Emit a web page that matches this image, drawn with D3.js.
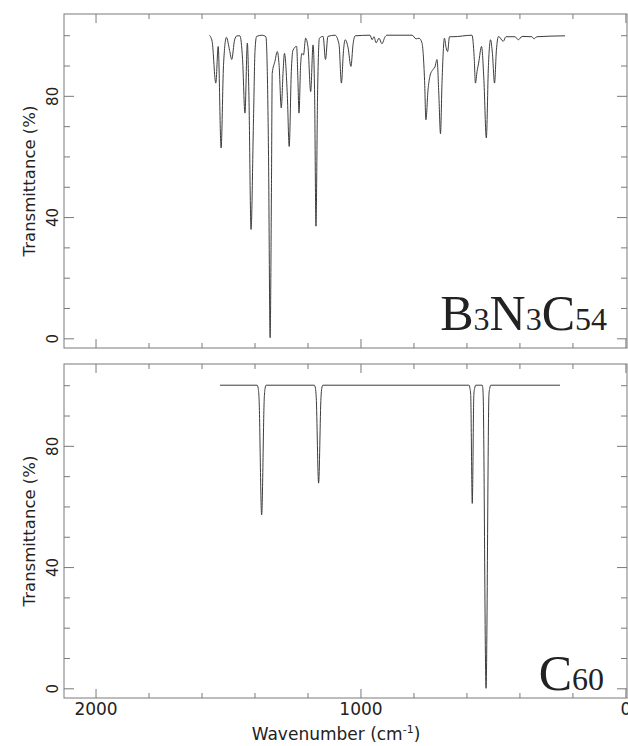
<!DOCTYPE html>
<html>
<head>
<meta charset="utf-8">
<script src="https://cdn.jsdelivr.net/npm/d3@7"></script>
<style>
  body { margin: 0; background: #fff; }
  text { fill: #222; }
</style>
</head>
<body>
<div id="chart"></div>
<script>
"use strict";

// B3N3C54 spectrum (wavenumber cm-1 / transmittance %)
var b3n3Wavenumber = [1570,1560,1546,1537,1526,1517,1506,1494,1486,1475,
  1466,1455,1445,1436,1427,1421,1413,1404,1398,1392,
  1372,1357,1347,1341,1336,1333,1323,1314,1307,1299,
  1292,1287,1276,1269,1261,1255,1241,1236,1232,1226,
  1221,1215,1207,1198,1188,1179,1173,1168,1162,1155,
  1141,1132,1123,1096,1081,1072,1064,1058,1047,1036,
  1028,1020,964,956,949,941,930,919,907,900,
  805,790,779,768,758,753,745,738,728,719,
  711,704,698,692,683,677,671,664,651,579,
  571,566,560,554,543,534,525,517,509,502,
  494,487,479,461,451,417,404,390,353,345,
  334,228];
var b3n3Transmittance = [100,98,84.2,96.3,62.8,90,99.3,95,92,98.5,
  99.8,99.8,92,74.3,97.4,80,35.9,71,95,99.6,
  100,99.5,60,0.2,50,87.5,91.3,94.6,90,76,
  88,94,80,63.3,88,95,96.3,85,74.3,90,
  94,93.5,99,96,81.4,96.8,80,37,80,99,
  99.6,92,99.6,100,97,84.2,95,98.5,96,89.7,
  97,99.8,100,98.5,99.5,97.5,99,97.2,99.5,100,
  100,98.8,99,97.5,85,72.1,82,86.4,88.5,89.5,
  92,80,67.5,85,99,96,94.6,99.5,99.5,100,
  93,84.2,88,90.8,96.3,85,66.1,90,98.5,94,
  84.2,95,99.6,98,99.5,99.5,98.5,99.6,99.5,98.8,
  99.5,99.8];

// C60 spectrum
var c60Wavenumber = [1530,1390,1386,1383,1373,1363,1360,1356,
  1175,1174,1170,1167,1158,1149,1146,1142,
  591,590,587,584,578,572,569,565,
  553,540,537,526,515,512,508,247];
var c60Transmittance = [100,100,99,96,57.2,96,99,100,
  100,100,99,96,67.7,96,99,100,
  100,100,99,97,61,97,99,100,
  100,100,97,0,97,99,100,100];

var xMajorTicks = [2000, 1000, 0];
var xMinorTicks = [1800, 1600, 1400, 1200, 800, 600, 400, 200];
var yMajorTicks = [0, 40, 80];
var yMinorTicks = [10, 20, 30, 50, 60, 70, 90, 100];

var width = 628, height = 746;
var left = 64, right = 627;

var svg = d3.select("#chart")
  .append("svg")
    .attr("width", width)
    .attr("height", height)
    .style("font-family", "'DejaVu Sans', sans-serif");

svg.append("rect").attr("width", width).attr("height", height).attr("fill", "#fff");

var x = d3.scaleLinear().domain([2119, -6]).range([left, right]);

var line = function(y) {
  return d3.line()
    .x(function(d) { return x(d[0]); })
    .y(function(d) { return y(d[1]); })
    .curve(d3.curveMonotoneX);
};

function drawPanel(top, bottom, wn, tr, showXLabels) {
  var y = d3.scaleLinear().domain([-3.2, 107]).range([bottom, top]);
  var g = svg.append("g");

  // x ticks, bottom and top edges, pointing inward
  var xb = g.append("g").attr("transform", "translate(0," + bottom + ")")
    .call(d3.axisBottom(x).tickValues(xMajorTicks).tickSize(-9).tickPadding(5)
      .tickFormat(showXLabels ? d3.format("d") : ""));
  g.append("g").attr("transform", "translate(0," + bottom + ")")
    .call(d3.axisBottom(x).tickValues(xMinorTicks).tickSize(-5).tickFormat(""));
  g.append("g").attr("transform", "translate(0," + top + ")")
    .call(d3.axisTop(x).tickValues(xMajorTicks).tickSize(-9).tickFormat(""));
  g.append("g").attr("transform", "translate(0," + top + ")")
    .call(d3.axisTop(x).tickValues(xMinorTicks).tickSize(-5).tickFormat(""));

  // y ticks, left and right edges
  var yl = g.append("g").attr("transform", "translate(" + left + ",0)")
    .call(d3.axisLeft(y).tickValues(yMajorTicks).tickSize(-10).tickFormat(d3.format("d")));
  g.append("g").attr("transform", "translate(" + left + ",0)")
    .call(d3.axisLeft(y).tickValues(yMinorTicks).tickSize(-6).tickFormat(""));
  g.append("g").attr("transform", "translate(" + right + ",0)")
    .call(d3.axisRight(y).tickValues(yMajorTicks).tickSize(-10).tickFormat(""));
  g.append("g").attr("transform", "translate(" + right + ",0)")
    .call(d3.axisRight(y).tickValues(yMinorTicks).tickSize(-6).tickFormat(""));

  g.selectAll(".domain").remove();
  g.selectAll(".tick line").attr("stroke", "#7a7a7a");

  yl.selectAll("text")
    .attr("x", null).attr("dy", null)
    .attr("text-anchor", "middle")
    .attr("transform", "translate(-6,0) rotate(-90)")
    .style("font-size", "15px").style("font-family", "'DejaVu Sans', sans-serif")
    .attr("fill", "#222");
  xb.selectAll("text")
    .style("font-size", "17px").style("font-family", "'DejaVu Sans', sans-serif")
    .attr("fill", "#222");

  // frame
  g.append("rect")
    .attr("x", left).attr("y", top)
    .attr("width", right - left).attr("height", bottom - top)
    .attr("fill", "none").attr("stroke", "#7a7a7a").attr("stroke-width", 1);

  // spectrum
  g.append("path")
    .datum(d3.zip(wn, tr))
    .attr("fill", "none")
    .attr("stroke", "#3c3c3c")
    .attr("stroke-width", 1)
    .attr("d", line(y));

  g.append("text")
    .attr("transform", "translate(35," + ((top + bottom) / 2) + ") rotate(-90)")
    .attr("text-anchor", "middle")
    .style("font-size", "16.5px")
    .text("Transmittance (%)");

  return g;
}

var gTop = drawPanel(14, 348, b3n3Wavenumber, b3n3Transmittance, false);
var gBot = drawPanel(364, 698, c60Wavenumber, c60Transmittance, true);

// molecule labels
function formula(g, xr, yb, parts) {
  var t = g.append("text")
    .attr("x", xr).attr("y", yb)
    .attr("text-anchor", "end")
    .style("font-family", "'Liberation Serif', 'Times New Roman', serif")
    .attr("fill", "#111");
  parts.forEach(function(p) {
    t.append("tspan").style("font-size", p[1] ? "32px" : "50px").text(p[0]);
  });
}
formula(gTop, 607, 330, [["B", 0], ["3", 1], ["N", 0], ["3", 1], ["C", 0], ["54", 1]]);
formula(gBot, 604, 690, [["C", 0], ["60", 1]]);

// x axis title
var xt = svg.append("text")
  .attr("x", 336).attr("y", 740)
  .attr("text-anchor", "middle")
  .style("font-size", "17px");
xt.append("tspan").text("Wavenumber (cm");
xt.append("tspan").attr("dy", -7).style("font-size", "11px").text("-1");
xt.append("tspan").attr("dy", 7).text(")");
</script>
</body>
</html>
